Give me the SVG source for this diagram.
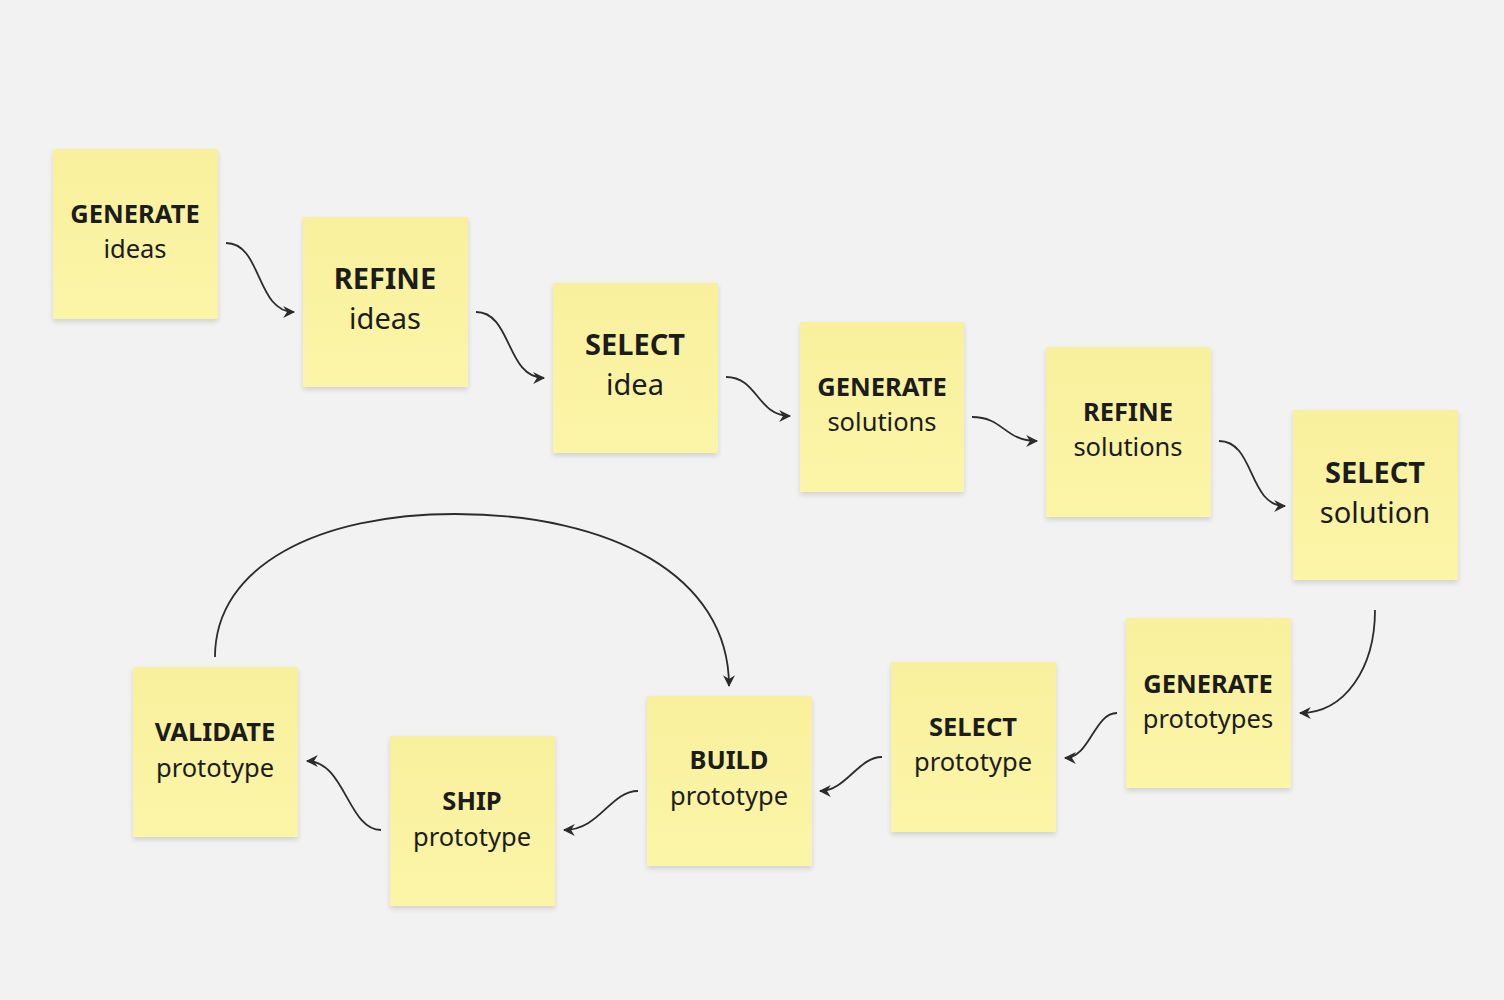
<svg xmlns="http://www.w3.org/2000/svg" width="1504" height="1000" viewBox="0 0 1504 1000">
<defs>
<linearGradient id="paper" x1="0" y1="0" x2="0" y2="1">
<stop offset="0" stop-color="#F8F09C"/>
<stop offset="1" stop-color="#FBF5A8"/>
</linearGradient>
<filter id="sh" x="-10%" y="-10%" width="120%" height="125%">
<feDropShadow dx="0" dy="3" stdDeviation="2.5" flood-color="#000" flood-opacity="0.13"/>
</filter>
<marker id="ah" viewBox="0 0 12 12" refX="10" refY="6" markerWidth="13" markerHeight="13" markerUnits="userSpaceOnUse" orient="auto">
<path d="M0,0.5 L11,6 L0,11.5 L3.5,6 z" fill="#2b2b2b"/>
</marker>
<style>
.note{fill:url(#paper);filter:url(#sh)}
.t{font-family:"Noto Sans","Open Sans",sans-serif;fill:#1c1c1c;text-anchor:middle}
.b{font-weight:700}
.s24{font-size:25.5px}
.s28{font-size:29px}
.c{fill:none;stroke:#2b2b2b;stroke-width:1.8;marker-end:url(#ah)}
</style>
</defs>
<rect width="1504" height="1000" fill="#F2F2F2"/>
<g id="n1"><rect class="note" x="53" y="149" width="165" height="170"/><text class="t b s24" x="135" y="223">GENERATE</text><text class="t s24" x="135" y="258">ideas</text></g>
<g id="n2"><rect class="note" x="303" y="217" width="165" height="170"/><text class="t b s28" x="385" y="289">REFINE</text><text class="t s28" x="385" y="329">ideas</text></g>
<g id="n3"><rect class="note" x="553" y="283" width="165" height="170"/><text class="t b s28" x="635" y="355">SELECT</text><text class="t s28" x="635" y="395">idea</text></g>
<g id="n4"><rect class="note" x="800" y="322" width="164" height="170"/><text class="t b s24" x="882" y="396">GENERATE</text><text class="t s24" x="882" y="431">solutions</text></g>
<g id="n5"><rect class="note" x="1046" y="347" width="165" height="170"/><text class="t b s24" x="1128" y="421">REFINE</text><text class="t s24" x="1128" y="456">solutions</text></g>
<g id="n6"><rect class="note" x="1293" y="410" width="165" height="170"/><text class="t b s28" x="1375" y="483">SELECT</text><text class="t s28" x="1375" y="523">solution</text></g>
<g id="n7"><rect class="note" x="1126" y="618" width="165" height="170"/><text class="t b s24" x="1208" y="693">GENERATE</text><text class="t s24" x="1208" y="728">prototypes</text></g>
<g id="n8"><rect class="note" x="891" y="662" width="165" height="170"/><text class="t b s24" x="973" y="736">SELECT</text><text class="t s24" x="973" y="771">prototype</text></g>
<g id="n9"><rect class="note" x="647" y="696" width="165" height="170"/><text class="t b s24" x="729" y="769">BUILD</text><text class="t s24" x="729" y="805">prototype</text></g>
<g id="n10"><rect class="note" x="390" y="736" width="165" height="170"/><text class="t b s24" x="472" y="810">SHIP</text><text class="t s24" x="472" y="846">prototype</text></g>
<g id="n11"><rect class="note" x="133" y="667" width="165" height="170"/><text class="t b s24" x="215" y="741">VALIDATE</text><text class="t s24" x="215" y="777">prototype</text></g>
<g id="connectors">
<path class="c" d="M226,243 C262,243 256,312 294,312"/>
<path class="c" d="M476,312 C512,312 506,378 544,378"/>
<path class="c" d="M726,377 C758,377 757,416 790,416"/>
<path class="c" d="M972,417 C1004,417 1004,441 1037,441"/>
<path class="c" d="M1219,441 C1255,441 1248,506 1285,506"/>
<path class="c" d="M1375,610 C1375,668 1345,713 1300,713"/>
<path class="c" d="M1117,713 C1094,713 1090,758 1065,758"/>
<path class="c" d="M882,757 C858,757 846,791 820,791"/>
<path class="c" d="M638,791 C610,791 600,830 564,830"/>
<path class="c" d="M381,830 C348,830 345,761 307,761"/>
<path class="c" d="M215,657 C215,565 320,514 455,514 C610,514 729,575 729,686"/>
</g>
</svg>
